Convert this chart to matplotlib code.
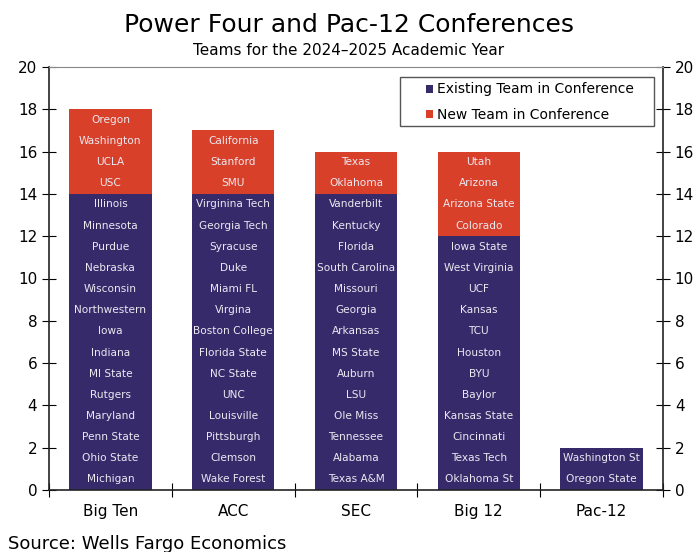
import matplotlib.pyplot as plt
import numpy as np
from matplotlib.patches import Rectangle

conferences = ['Big Ten', 'ACC', 'SEC', 'Big 12', 'Pac-12']

# teams listed from bottom of bar to top
existing = [
    ['Michigan', 'Ohio State', 'Penn State', 'Maryland', 'Rutgers', 'MI State',
     'Indiana', 'Iowa', 'Northwestern', 'Wisconsin', 'Nebraska', 'Purdue',
     'Minnesota', 'Illinois'],
    ['Wake Forest', 'Clemson', 'Pittsburgh', 'Louisville', 'UNC', 'NC State',
     'Florida State', 'Boston College', 'Virgina', 'Miami FL', 'Duke',
     'Syracuse', 'Georgia Tech', 'Virginina Tech'],
    ['Texas A&M', 'Alabama', 'Tennessee', 'Ole Miss', 'LSU', 'Auburn',
     'MS State', 'Arkansas', 'Georgia', 'Missouri', 'South Carolina',
     'Florida', 'Kentucky', 'Vanderbilt'],
    ['Oklahoma St', 'Texas Tech', 'Cincinnati', 'Kansas State', 'Baylor', 'BYU',
     'Houston', 'TCU', 'Kansas', 'UCF', 'West Virginia', 'Iowa State'],
    ['Oregon State', 'Washington St'],
]
new = [
    ['USC', 'UCLA', 'Washington', 'Oregon'],
    ['SMU', 'Stanford', 'California'],
    ['Oklahoma', 'Texas'],
    ['Colorado', 'Arizona State', 'Arizona', 'Utah'],
    [],
]

navy = '#362a6b'
red = '#d8402a'
txt = '#ece8f0'

plt.rcParams['font.family'] = 'DejaVu Sans'

fig = plt.figure(figsize=(6.97, 5.52), dpi=100)
ax = fig.add_axes([49/697, 62/552, 614/697, 423/552])

x = np.arange(len(conferences))
n_exist = np.array([len(t) for t in existing])
n_new = np.array([len(t) for t in new])
w = 0.67

ax.bar(x, n_exist, width=w, color=navy, label='Existing Team in Conference', zorder=2)
ax.bar(x, n_new, width=w, bottom=n_exist, color=red, label='New Team in Conference', zorder=2)

for i in range(len(conferences)):
    for j, team in enumerate(existing[i]):
        ax.text(x[i], j + 0.5, team, ha='center', va='center', color=txt, fontsize=7.6, zorder=3)
    for j, team in enumerate(new[i]):
        ax.text(x[i], n_exist[i] + j + 0.5, team, ha='center', va='center', color=txt, fontsize=7.6, zorder=3)

ax.set_xlim(-0.5, 4.5)
ax.set_ylim(0, 20)
ax.set_yticks(range(0, 21, 2))
ax.set_xticks(np.arange(-0.5, 5, 1))
ax.set_xticklabels([])
ax.set_xticks(x, minor=True)
ax.set_xticklabels(conferences, minor=True, fontsize=11)
ax.tick_params(axis='x', which='minor', length=0, pad=10)
ax.tick_params(axis='x', which='major', direction='inout', length=10)
ax.tick_params(axis='y', direction='inout', length=10, labelsize=11,
               left=True, right=True, labelleft=True, labelright=True)

ax.spines['top'].set_color('#888888')
for s in ['left', 'right', 'bottom']:
    ax.spines[s].set_color('#222222')
    ax.spines[s].set_linewidth(1.2)

# legend, with its frame drawn separately to match the wide box
leg = ax.legend(loc='upper left', bbox_to_anchor=(426/697, 1 - 82.5/552),
                bbox_transform=fig.transFigure, fontsize=10, frameon=False,
                handlelength=0.5, handleheight=0.5, handletextpad=0.3,
                borderpad=0, borderaxespad=0, labelspacing=0.8)
fig.patches.append(Rectangle((400/697, 1 - 126/552), 254/697, 49/552,
                             transform=fig.transFigure, fill=False,
                             edgecolor='#555555', linewidth=1.0))

fig.text(0.5, 0.942, 'Power Four and Pac-12 Conferences', ha='center', fontsize=18)
fig.text(0.5, 0.901, 'Teams for the 2024\u20132025 Academic Year', ha='center', fontsize=11)
fig.text(0.012, 0.005, 'Source: Wells Fargo Economics', ha='left', fontsize=13)

fig.savefig('out.png', dpi=100)
